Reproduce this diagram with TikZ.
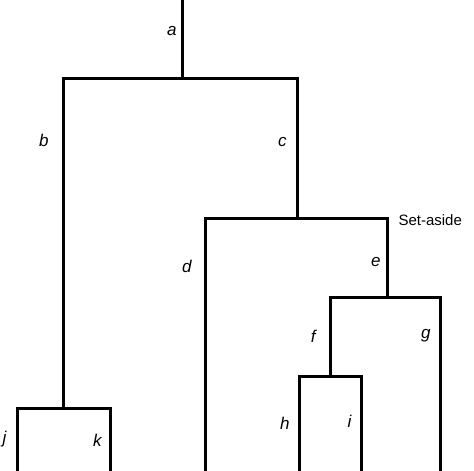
\documentclass[tikz,border=0pt]{standalone}
\usepackage{fontspec}
\setmainfont{Liberation Sans}
\begin{document}
\begin{tikzpicture}[x=1pt, y=-1pt, line width=3pt, line cap=rect,
    branch/.style={left, inner sep=1pt, font=\fontsize{17}{20}\selectfont\itshape}]
        \useasboundingbox (0,0) rectangle (474,471);
        \coordinate (top) at (182,0);
        \coordinate (R) at (182,78);
        \coordinate (B) at (63,78);
        \coordinate (C) at (297,78);
        \coordinate (BJ) at (63,408);
        \coordinate (CJ) at (297,218);
        \coordinate (D) at (205,218);
        \coordinate (E) at (387,218);
        \coordinate (Dend) at (205,471);
        \coordinate (EJ) at (387,297);
        \coordinate (F) at (330,297);
        \coordinate (G) at (440,297);
        \coordinate (Gend) at (440,471);
        \coordinate (FJ) at (330,376);
        \coordinate (H) at (299,376);
        \coordinate (I) at (361,376);
        \coordinate (Hend) at (299,471);
        \coordinate (Iend) at (361,471);
        \coordinate (J) at (17,408);
        \coordinate (K) at (110,408);
        \coordinate (Jend) at (17,471);
        \coordinate (Kend) at (110,471);

        \draw (top) -- node[branch, pos=0.4, xshift=-3pt] (la) {a} (R);
        \draw (B) -- (C);
        \draw (B) -- node[branch, pos=0.19, xshift=-12pt] (lb) {b} (BJ);
        \draw (C) -- node[branch, pos=0.46, xshift=-8pt] (lc) {c} (CJ);
        \draw (D) -- (E);
        \draw (D) -- node[branch, pos=0.19, xshift=-11pt] (ld) {d} (Dend);
        \draw (E) -- node[branch, pos=0.56, xshift=-4pt] (le) {e} (EJ);
        \draw (F) -- (G);
        \draw (F) -- node[branch, pos=0.5, xshift=-12pt] (lf) {f} (FJ);
        \draw (G) -- node[branch, pos=0.22, xshift=-7pt] (lg) {g} (Gend);
        \draw (H) -- (I);
        \draw (H) -- node[branch, pos=0.5, xshift=-7pt] (lh) {h} (Hend);
        \draw (I) -- node[branch, pos=0.48, xshift=-7pt] (li) {i} (Iend);
        \draw (J) -- (K);
        \draw (J) -- node[branch, pos=0.5, xshift=-8pt] (lj) {j} (Jend);
        \draw (K) -- node[branch, pos=0.52, xshift=-6pt] (lk) {k} (Kend);

        \node[right, inner sep=0pt, xshift=10pt, yshift=-2pt, font=\fontsize{15}{18}\selectfont] (aside) at (E) {Set-aside};
    \end{tikzpicture}
\end{document}
